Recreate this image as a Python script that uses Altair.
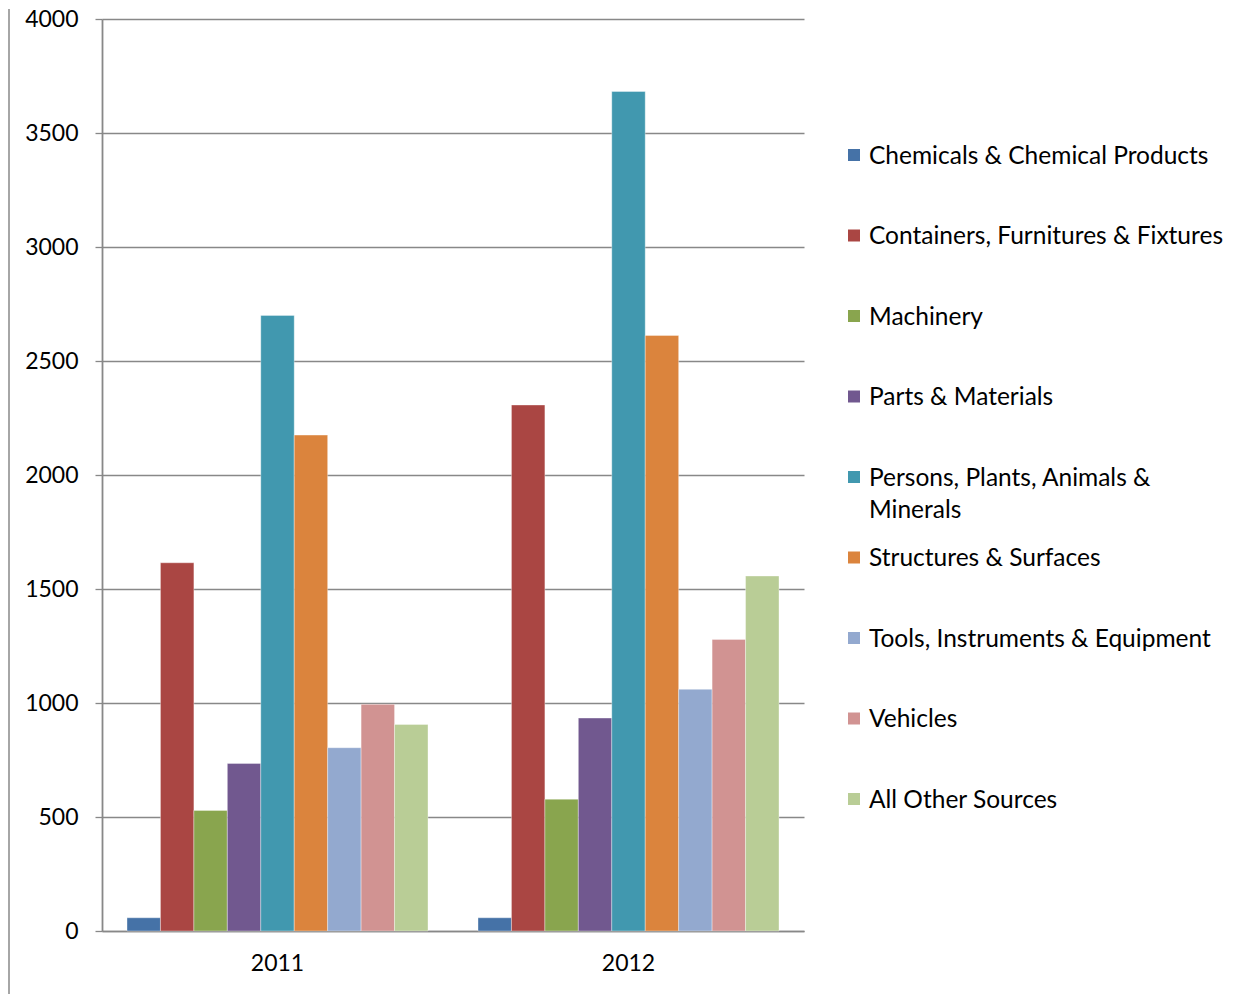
import altair as alt
import pandas as pd

years = ["2011", "2012"]
categories = [
    "Chemicals & Chemical Products",
    "Containers, Furnitures & Fixtures",
    "Machinery",
    "Parts & Materials",
    "Persons, Plants, Animals & Minerals",
    "Structures & Surfaces",
    "Tools, Instruments & Equipment",
    "Vehicles",
    "All Other Sources",
]
legend_labels = [
    "Chemicals & Chemical Products",
    "Containers, Furnitures & Fixtures",
    "Machinery",
    "Parts & Materials",
    "Persons, Plants, Animals &\nMinerals",
    "Structures & Surfaces",
    "Tools, Instruments & Equipment",
    "Vehicles",
    "All Other Sources",
]
values_2011 = [58, 1615, 529, 735, 2700, 2175, 804, 994, 906]
values_2012 = [58, 2307, 578, 934, 3682, 2612, 1060, 1279, 1557]
colors = ["#4572A7", "#AA4643", "#89A54E", "#71588F", "#4198AF",
          "#DB843D", "#93A9CF", "#D19392", "#B9CD96"]
y_ticks = [0, 500, 1000, 1500, 2000, 2500, 3000, 3500, 4000]

rows = []
for yr, vals in zip(years, [values_2011, values_2012]):
    for c, v in zip(categories, vals):
        rows.append({"year": yr, "category": c, "value": v})
df = pd.DataFrame(rows)
leg_df = pd.DataFrame({"category": categories, "label": legend_labels})

FONT = "Lato"
AXIS_FS = 23
LEG_FS = 24.5
GRID = "#888888"

color_scale = alt.Scale(domain=categories, range=colors)

bars = alt.Chart(df).mark_bar(stroke="white", strokeOpacity=0.45, strokeWidth=0.8).encode(
    x=alt.X("year:N", sort=years,
            scale=alt.Scale(paddingInner=0.1425, paddingOuter=0.07125),
            axis=alt.Axis(title=None, labelAngle=0, ticks=False, labelPadding=21,
                          domainColor=GRID, domainWidth=1.5)),
    xOffset=alt.XOffset("category:N", sort=categories,
                        scale=alt.Scale(paddingInner=0, paddingOuter=0)),
    y=alt.Y("value:Q", scale=alt.Scale(domain=[0, 4000], nice=False),
            axis=alt.Axis(title=None, values=y_ticks, format="d", tickSize=7,
                          labelPadding=17, domainColor=GRID, domainWidth=1.8,
                          tickColor=GRID, tickWidth=1.3, gridColor=GRID, gridWidth=1.3)),
    color=alt.Color("category:N", sort=categories, scale=color_scale, legend=None),
)

border = alt.Chart(pd.DataFrame({"z": [0]})).mark_rule(color=GRID, strokeWidth=1.5).encode(
    x=alt.value(-93), y=alt.value(-10), y2=alt.value(975)
)

main = alt.layer(bars, border).properties(width=702, height=912)

ly = alt.Y("category:N", sort=categories,
           scale=alt.Scale(type="point", range=[136, 780], padding=0), axis=None)

squares = alt.Chart(leg_df).mark_square(size=144, opacity=1, filled=True).encode(
    x=alt.value(6), y=ly,
    color=alt.Color("category:N", sort=categories, scale=color_scale, legend=None),
)
texts = alt.Chart(leg_df).mark_text(
    align="left", baseline="alphabetic", dy=8.5, lineBreak="\n", lineHeight=32,
    fontSize=LEG_FS, font=FONT, color="black",
).encode(x=alt.value(21), y=ly, text="label:N")

legend = alt.layer(squares, texts).properties(width=360, height=912)

chart = alt.hconcat(main, legend, spacing=44).properties(
    padding={"left": 0, "top": 0, "right": 5, "bottom": 0}
).configure_view(stroke=None).configure_axis(
    labelFont=FONT, labelFontSize=AXIS_FS, labelColor="black", grid=True
).configure_axisX(grid=False)

chart.save("out.html", embed_options={"renderer": "svg", "actions": False})
